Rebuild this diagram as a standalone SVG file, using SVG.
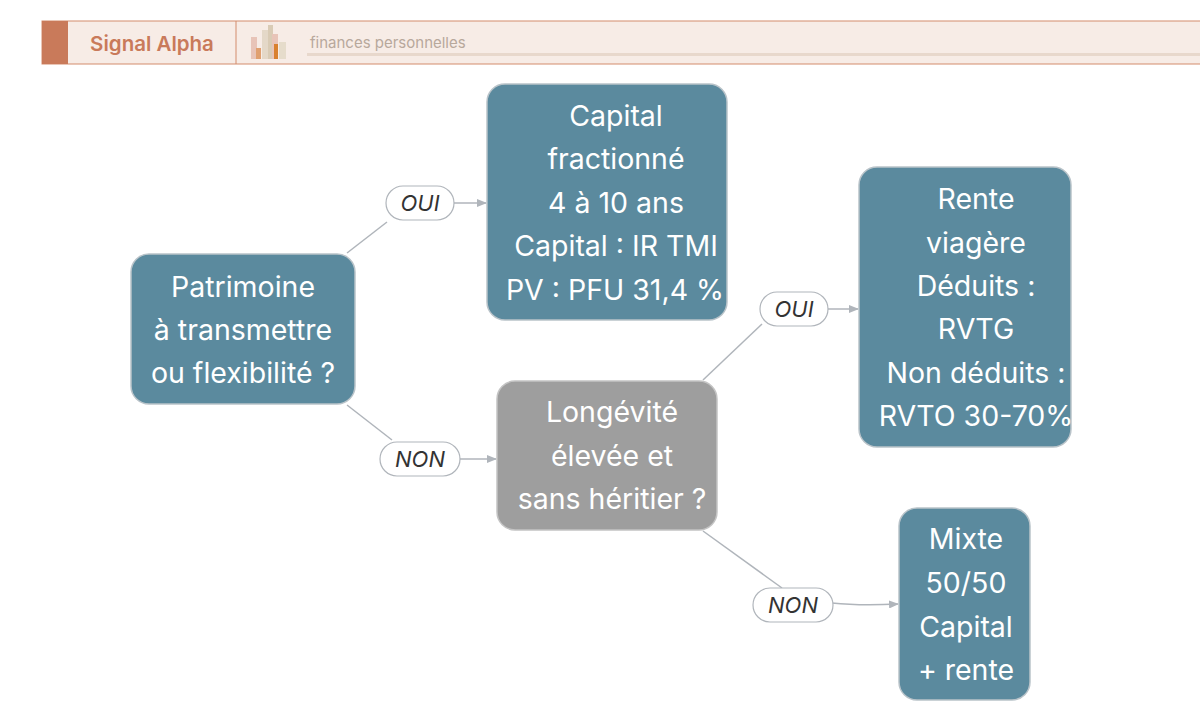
<svg xmlns="http://www.w3.org/2000/svg" width="1200" height="721" viewBox="0 0 1200 721">
<style>
.n{fill:#5b8a9e;stroke:#b9c3c9;stroke-width:1.5}
.g{fill:#9e9e9e;stroke:#c4c4c4;stroke-width:1.5}
.t{font-family:Inter,"Liberation Sans",sans-serif;font-size:28.5px;fill:#fff;text-anchor:middle;dominant-baseline:central}
.p{fill:#fff;stroke:#b0b5bb;stroke-width:1.2}
.pt{font-family:Inter,"Liberation Sans",sans-serif;font-size:22px;font-style:italic;fill:#333;text-anchor:middle;dominant-baseline:central}
.c{fill:none;stroke:#b0b5bb;stroke-width:1.5}
</style>
<defs><marker id="a" markerWidth="10" markerHeight="8" refX="9" refY="4" orient="auto" markerUnits="userSpaceOnUse"><path d="M0,0L10,4L0,8z" fill="#b0b5bb"/></marker></defs>
<rect width="1200" height="721" fill="#fff"/>
<g id="header">
<rect x="42" y="21" width="1170" height="43" fill="#f7ece6" stroke="#d38c6c" stroke-width="1"/>
<rect x="42" y="21" width="26" height="43" fill="#c97a5a"/>
<line x1="236" y1="21" x2="236" y2="64" stroke="#d38c6c"/>
<text x="152" y="43" font-family="Inter,'Liberation Sans',sans-serif" font-weight="600" font-size="20.5" fill="#c97a5a" text-anchor="middle" dominant-baseline="central">Signal Alpha</text>
<rect x="251" y="37" width="6" height="22" fill="#e8c4b8"/><rect x="256" y="48" width="5" height="11" fill="#e0a070"/>
<rect x="262" y="30" width="6" height="29" fill="#e4d8c8"/><rect x="268" y="25" width="5" height="34" fill="#d9cbb5"/>
<rect x="272" y="34" width="6" height="25" fill="#e8c4b8"/><rect x="274" y="44" width="4" height="15" fill="#d9812f"/>
<rect x="279" y="42" width="7" height="17" fill="#e6dccb"/>
<text x="310" y="42" font-family="Inter,'Liberation Sans',sans-serif" font-size="15" fill="#b8a89c" dominant-baseline="central">finances personnelles</text>
<rect x="307" y="53" width="893" height="3" fill="#e8d8cc"/>
</g>
<g id="connectors">
<line class="c" x1="347" y1="253" x2="387" y2="222"/>
<line class="c" x1="454" y1="203" x2="486" y2="203" marker-end="url(#a)"/>
<line class="c" x1="347" y1="405" x2="392" y2="440"/>
<line class="c" x1="460" y1="459" x2="496" y2="459" marker-end="url(#a)"/>
<path class="c" d="M703,380L762,324"/>
<line class="c" x1="828" y1="309" x2="858" y2="309" marker-end="url(#a)"/>
<path class="c" d="M703,531L782,588"/>
<path class="c" d="M832,603Q860,606 898,604" marker-end="url(#a)"/>
</g>
<g id="n1"><rect class="n" x="131" y="254" width="224" height="150" rx="18"/>
<text class="t" x="243" y="286">Patrimoine</text><text class="t" x="243" y="329">à transmettre</text><text class="t" x="243" y="372">ou flexibilité ?</text></g>
<g id="n2"><rect class="n" x="487" y="84" width="240" height="236" rx="18"/>
<text class="t" x="616" y="115">Capital</text><text class="t" x="616" y="158">fractionné</text><text class="t" x="616" y="202">4 à 10 ans</text><text class="t" x="616" y="245">Capital : IR TMI</text><text class="t" x="615" y="289">PV : PFU 31,4 %</text></g>
<g id="n3"><rect class="g" x="497" y="381" width="220" height="149" rx="18"/>
<text class="t" x="612" y="411">Longévité</text><text class="t" x="612" y="455">élevée et</text><text class="t" x="612" y="498">sans héritier ?</text></g>
<g id="n4"><rect class="n" x="859" y="167" width="212" height="280" rx="18"/>
<text class="t" x="976" y="198">Rente</text><text class="t" x="976" y="242">viagère</text><text class="t" x="976" y="285">Déduits :</text><text class="t" x="976" y="328">RVTG</text><text class="t" x="976" y="372">Non déduits :</text><text class="t" x="976" y="415">RVTO 30-70%</text></g>
<g id="n5"><rect class="n" x="899" y="508" width="131" height="192" rx="18"/>
<text class="t" x="966" y="538">Mixte</text><text class="t" x="966" y="582">50/50</text><text class="t" x="966" y="626">Capital</text><text class="t" x="966" y="669">+ rente</text></g>
<g id="labels">
<rect class="p" x="386" y="186" width="68" height="34" rx="17"/><text class="pt" x="420" y="203">OUI</text>
<rect class="p" x="380" y="442" width="80" height="34" rx="17"/><text class="pt" x="420" y="459">NON</text>
<rect class="p" x="760" y="292" width="68" height="34" rx="17"/><text class="pt" x="794" y="309">OUI</text>
<rect class="p" x="753" y="588" width="80" height="34" rx="17"/><text class="pt" x="793" y="605">NON</text>
</g>
</svg>
